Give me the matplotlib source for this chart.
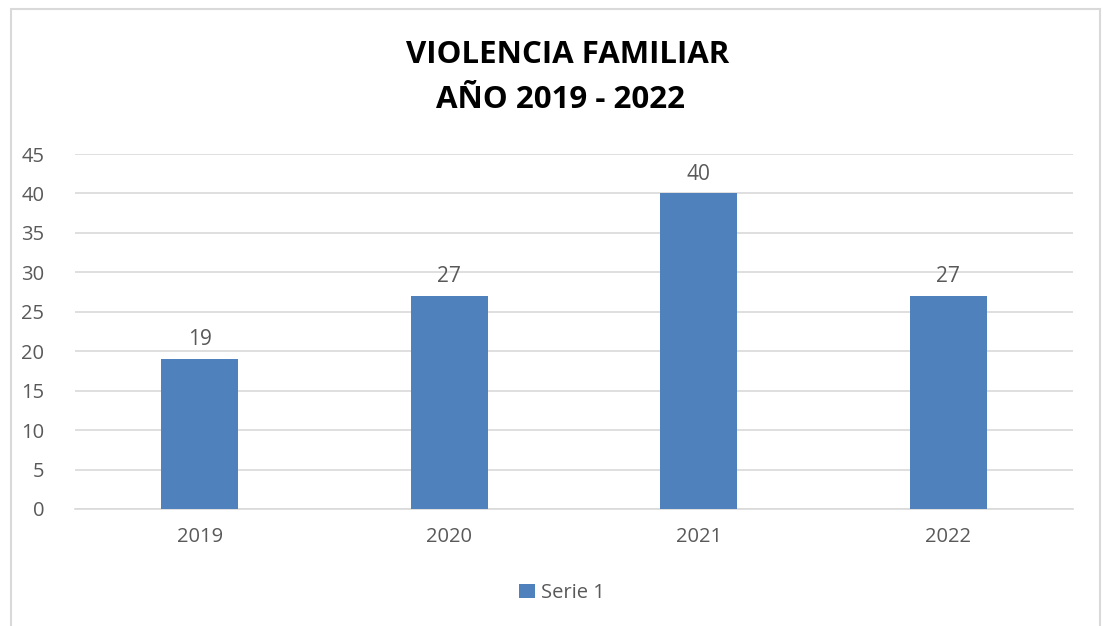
import matplotlib.pyplot as plt
from matplotlib.patches import Rectangle

# Data
years = ["2019", "2020", "2021", "2022"]
cases = [19, 27, 40, 27]
series_name = "Serie 1"
y_ticks = [0, 5, 10, 15, 20, 25, 30, 35, 40, 45]

BAR_COLOR = "#4F81BD"
TEXT_COLOR = "#595959"
GRID_COLOR = "#D9D9D9"

plt.rcParams["font.family"] = ["Open Sans", "DejaVu Sans"]

fig = plt.figure(figsize=(11.03, 6.26), dpi=100)
W, H = 1103, 626

# chart area border
fig.patches.append(Rectangle((11 / W, -0.01), (1100 - 11) / W, 1 - 9 / H + 0.01,
                             transform=fig.transFigure, fill=False,
                             edgecolor=GRID_COLOR, linewidth=1.5))

ax = fig.add_axes([75 / W, 1 - 509 / H, (1073 - 75) / W, (509 - 154) / H])

x = range(len(years))
bars = ax.bar(x, cases, width=0.31, color=BAR_COLOR, zorder=3, label=series_name)
for b, v in zip(bars, cases):
    ax.text(b.get_x() + b.get_width() / 2, v + 1.1, str(v), ha="center", va="bottom",
            fontsize=15, color=TEXT_COLOR)

ax.set_xlim(-0.5, len(years) - 0.5)
ax.set_ylim(0, 45)
ax.set_yticks(y_ticks)
ax.set_xticks(list(x))
ax.set_xticklabels(years)
ax.yaxis.grid(True, color=GRID_COLOR, linewidth=1.2, zorder=0)
ax.tick_params(axis="both", length=0, labelsize=14.5, colors=TEXT_COLOR)
ax.tick_params(axis="y", pad=22)
ax.tick_params(axis="x", pad=13)
for s in ["top", "right", "left"]:
    ax.spines[s].set_visible(False)
ax.spines["bottom"].set_color(GRID_COLOR)
ax.spines["bottom"].set_linewidth(1.2)

fig.text(568 / W, 1 - 55 / H, "VIOLENCIA FAMILIAR", ha="center", va="center",
         fontsize=22.5, fontweight="bold", color="black")
fig.text(560 / W, 1 - 100 / H, "AÑO 2019 - 2022", ha="center", va="center",
         fontsize=22.5, fontweight="bold", color="black")

fig.legend(handles=[bars], labels=[series_name], loc="center",
           bbox_to_anchor=(562 / W, 1 - 593 / H), frameon=False, fontsize=14.5,
           handlelength=0.75, handleheight=0.75, handletextpad=0.3, labelcolor=TEXT_COLOR)

fig.savefig("out.png", dpi=100, facecolor="white")
